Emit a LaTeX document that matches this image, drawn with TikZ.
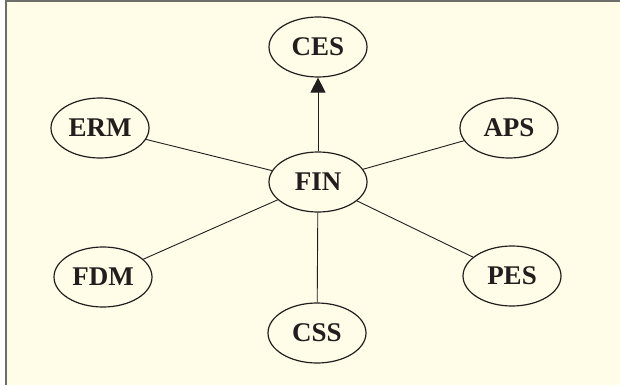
\documentclass[tikz,border=0pt]{standalone}
\usepackage{fontspec}
\setmainfont{Liberation Serif}
\usepackage{xcolor}
\usepackage{tikz}
\usetikzlibrary{arrows.meta,shapes.geometric}
\definecolor{panelcream}{RGB}{255,253,231}
\definecolor{framegrey}{RGB}{110,110,106}
\definecolor{inkblack}{RGB}{34,30,30}
\tikzset{
  module/.style={ellipse,draw=inkblack,line width=1.2pt,fill=panelcream,
    minimum width=98pt,minimum height=60pt,inner sep=0pt,
    font=\fontsize{27}{32}\selectfont\bfseries,text=inkblack},
  link/.style={draw=inkblack,line width=0.9pt},
  flow/.style={-{Triangle[length=15pt,width=15pt]},line width=0.9pt,draw=inkblack}
}

\begin{document}
\begin{tikzpicture}[x=1pt,y=-1pt]
  \useasboundingbox (0,0) rectangle (620,385);
  \fill[panelcream] (5,1) rectangle (620,385);
  \draw[framegrey,line width=2pt] (5.5,385) -- (5.5,1.5) -- (620,1.5);
  \node[module] (fin) at (318,182) {FIN};
  \node[module] (ces) at (318,47) {CES};
  \node[module] (erm) at (100,128) {ERM};
  \node[module] (aps) at (509,128) {APS};
  \node[module] (fdm) at (103,277) {FDM};
  \node[module] (pes) at (512,276) {PES};
  \node[module] (css) at (317,333) {CSS};
  \draw[flow] (fin) -- (ces);
  \draw[link] (fin) -- (erm);
  \draw[link] (fin) -- (aps);
  \draw[link] (fin) -- (fdm);
  \draw[link] (fin) -- (pes);
  \draw[link] (fin) -- (css);
\end{tikzpicture}
\end{document}
